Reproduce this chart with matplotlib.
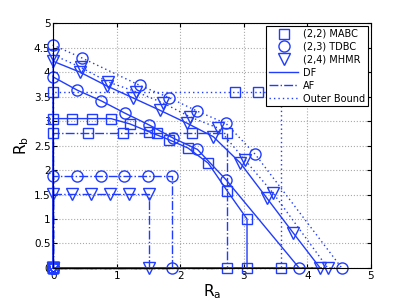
import matplotlib
matplotlib.use('Agg')
import matplotlib.pyplot as plt
from matplotlib.lines import Line2D

# rate region boundaries (Ra, Rb), each closed through the origin
ra_mabc_df = [0, 0, 0.30, 0.61, 0.91, 1.21, 1.51, 1.82, 2.12, 2.44, 2.74, 3.05, 3.05, 0]
rb_mabc_df = [0, 3.05, 3.05, 3.05, 3.05, 2.94, 2.78, 2.62, 2.45, 2.14, 1.57, 1.0, 0, 0]
ra_tdbc_df = [0, 0, 0.38, 0.76, 1.13, 1.51, 1.89, 2.27, 2.72, 3.87, 0]
rb_tdbc_df = [0, 3.9, 3.63, 3.41, 3.16, 2.92, 2.65, 2.42, 1.8, 0, 0]
ra_mhmr_df = [0, 0, 0.42, 0.84, 1.26, 1.68, 2.1, 2.52, 2.94, 3.36, 3.78, 4.2, 0]
rb_mhmr_df = [0, 4.22, 4.0, 3.72, 3.47, 3.22, 2.96, 2.68, 2.15, 1.43, 0.71, 0, 0]

ra_mabc_af = [0, 0, 0.55, 1.1, 1.64, 2.19, 2.74, 2.74, 0]
rb_mabc_af = [0, 2.75, 2.75, 2.75, 2.75, 2.75, 2.75, 0, 0]
ra_tdbc_af = [0, 0, 0.37, 0.75, 1.12, 1.49, 1.87, 1.87, 0]
rb_tdbc_af = [0, 1.87, 1.87, 1.87, 1.87, 1.87, 1.87, 0, 0]
ra_mhmr_af = [0, 0, 0.3, 0.6, 0.9, 1.2, 1.5, 1.5, 0]
rb_mhmr_af = [0, 1.52, 1.52, 1.52, 1.52, 1.52, 1.52, 0, 0]

ra_mabc_ob = [0, 0, 2.86, 3.22, 3.58, 3.58, 0]
rb_mabc_ob = [0, 3.6, 3.6, 3.6, 3.6, 0, 0]
ra_tdbc_ob = [0, 0, 0.45, 1.36, 1.82, 2.27, 2.72, 3.18, 4.54, 0]
rb_tdbc_ob = [0, 4.55, 4.29, 3.73, 3.48, 3.2, 2.95, 2.32, 0, 0]
ra_mhmr_ob = [0, 0, 0.43, 0.86, 1.3, 1.73, 2.16, 2.59, 3.02, 3.46, 4.32, 0]
rb_mhmr_ob = [0, 4.35, 4.1, 3.8, 3.6, 3.37, 3.08, 2.86, 2.2, 1.53, 0, 0]

blue = '#1f3cff'
msz = {'s': 7, 'o': 8, 'v': 8}
dotted = (0, (1, 2.2))

fig = plt.figure(figsize=(4.09, 3.08), dpi=100)
ax = fig.add_axes([0.13, 0.13, 0.777, 0.795])

curves = [
    (ra_mabc_df, rb_mabc_df, 's', '-'), (ra_tdbc_df, rb_tdbc_df, 'o', '-'), (ra_mhmr_df, rb_mhmr_df, 'v', '-'),
    (ra_mabc_af, rb_mabc_af, 's', '-.'), (ra_tdbc_af, rb_tdbc_af, 'o', '-.'), (ra_mhmr_af, rb_mhmr_af, 'v', '-.'),
    (ra_mabc_ob, rb_mabc_ob, 's', dotted), (ra_tdbc_ob, rb_tdbc_ob, 'o', dotted), (ra_mhmr_ob, rb_mhmr_ob, 'v', dotted),
]
for x, y, m, ls in curves:
    ax.plot(x, y, color=blue, ls=ls, lw=1, marker=m, ms=msz[m], mfc='none', mew=1, clip_on=False)

ax.set_xlim(0, 5)
ax.set_ylim(0, 5)
ax.set_xticks([0, 1, 2, 3, 4, 5])
ax.set_yticks([0, 0.5, 1, 1.5, 2, 2.5, 3, 3.5, 4, 4.5, 5])
ax.set_yticklabels(['0', '0.5', '1', '1.5', '2', '2.5', '3', '3.5', '4', '4.5', '5'])
ax.grid(True, ls=':', color='#aaaaaa', lw=0.8)
ax.tick_params(direction='in', top=True, right=True, labelsize=7.5, length=3, pad=2)
ax.set_xlabel('$\\mathrm{R_a}$', fontsize=11, labelpad=1)
ax.set_ylabel('$\\mathrm{R_b}$', fontsize=11, labelpad=2)

handles = [
    Line2D([], [], color=blue, ls='none', marker='s', ms=7, mfc='none'),
    Line2D([], [], color=blue, ls='none', marker='o', ms=8, mfc='none'),
    Line2D([], [], color=blue, ls='none', marker='v', ms=8, mfc='none'),
    Line2D([], [], color=blue, ls='-', lw=1),
    Line2D([], [], color=blue, ls='-.', lw=1),
    Line2D([], [], color=blue, ls=dotted, lw=1),
]
labels = ['(2,2) MABC', '(2,3) TDBC', '(2,4) MHMR', 'DF', 'AF', 'Outer Bound']
leg = ax.legend(handles, labels, loc='upper right', fontsize=7, fancybox=False,
                edgecolor='black', framealpha=1, borderaxespad=0.3, handlelength=3,
                labelspacing=0.3, handletextpad=0.5, borderpad=0.3)
leg.get_frame().set_linewidth(0.8)

fig.savefig('out.png', dpi=100)
